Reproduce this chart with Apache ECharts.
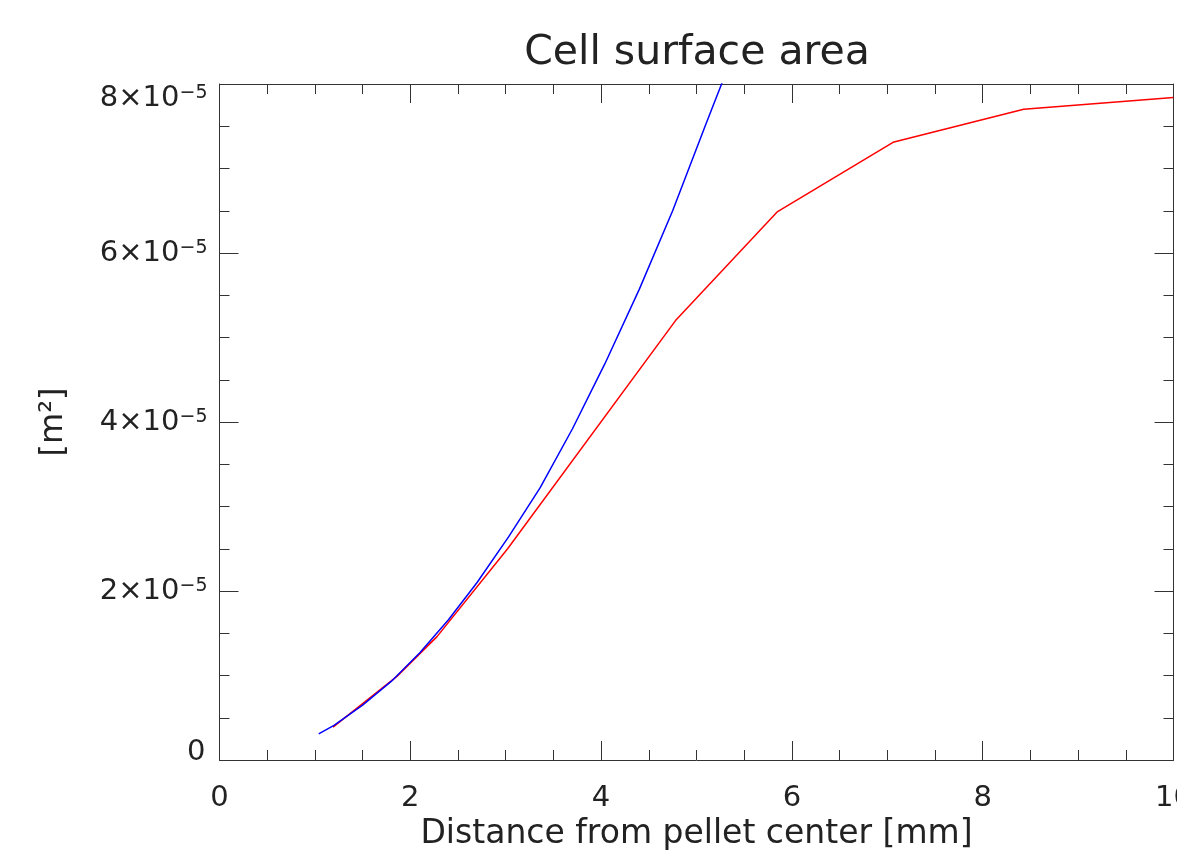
<!DOCTYPE html>
<html>
<head>
<meta charset="utf-8">
<script src="https://cdn.jsdelivr.net/npm/echarts@6/dist/echarts.min.js"></script>
<style>
html,body{margin:0;padding:0;background:#fff;overflow:hidden;}
#chart{position:absolute;left:0;top:0;width:1177px;height:854px;}
</style>
</head>
<body>
<div id="chart"></div>
<script>
// Data (distance in mm, area in m^2)
const blueX = [1.04, 1.2, 1.5, 1.8, 2.1, 2.4, 2.7, 3.03, 3.36, 3.7, 4.04, 4.4, 4.75, 5.1, 5.45];
const blueY = [3.1e-6, 4.1e-6, 6.5e-6, 9.3e-6, 1.27e-5, 1.66e-5, 2.10e-5, 2.64e-5, 3.22e-5, 3.92e-5, 4.69e-5, 5.57e-5, 6.50e-5, 7.53e-5, 8.54e-5];
const redX = [1.19, 1.86, 2.28, 3.02, 4.78, 5.85, 7.06, 8.43, 10.0];
const redY = [3.9e-6, 9.9e-6, 1.46e-5, 2.50e-5, 5.20e-5, 6.49e-5, 7.31e-5, 7.70e-5, 7.84e-5];
const xTicks = [0, 2, 4, 6, 8, 10];
const yTicks = [0, 2e-5, 4e-5, 6e-5, 8e-5];

const FONT = 'DejaVu Sans';
const TXT = '#222';
const chart = echarts.init(document.getElementById('chart'), null, {renderer: 'canvas', width: 1177, height: 854});
const zip = (xs, ys) => xs.map((x, i) => [x, ys[i]]);

const tickCommon = () => ({
  axisLine: {show: true, onZero: false, lineStyle: {color: '#333', width: 1}},
  axisTick: {show: true, inside: true, length: 19, lineStyle: {color: '#333', width: 1}},
  minorTick: {show: true, splitNumber: 4, length: 10, lineStyle: {color: '#333', width: 1}},
  splitLine: {show: false},
  minorSplitLine: {show: false}
});

chart.setOption({
  animation: false,
  backgroundColor: '#fff',
  title: {
    text: 'Cell surface area',
    left: 692, top: 28, textAlign: 'center',
    textStyle: {fontFamily: FONT, fontSize: 41, fontWeight: 'normal', color: TXT}
  },
  grid: {left: 219.5, right: 3.5, top: 84, bottom: 94, containLabel: false, outerBoundsMode: 'none'},
  xAxis: [
    Object.assign(tickCommon(), {
      type: 'value', min: xTicks[0], max: xTicks[xTicks.length - 1], interval: 2,
      position: 'bottom',
      name: 'Distance from pellet center [mm]', nameLocation: 'middle', nameGap: 56,
      nameTextStyle: {fontFamily: FONT, fontSize: 33, color: TXT},
      axisLabel: {margin: 24, fontFamily: FONT, fontSize: 29, color: TXT, hideOverlap: false,
        formatter: v => String(Math.round(v))}
    }),
    Object.assign(tickCommon(), {
      type: 'value', min: xTicks[0], max: xTicks[xTicks.length - 1], interval: 2,
      position: 'top', axisLabel: {show: false}
    })
  ],
  yAxis: [
    Object.assign(tickCommon(), {
      type: 'value', min: yTicks[0], max: yTicks[yTicks.length - 1], interval: 2e-5,
      position: 'left',
      name: '[m²]', nameLocation: 'middle', nameGap: 150, nameRotate: 90,
      nameTextStyle: {fontFamily: FONT, fontSize: 32, color: TXT},
      axisLabel: {
        margin: 12, fontFamily: FONT, fontSize: 29, color: TXT,
        verticalAlignMaxLabel: 'top', verticalAlignMinLabel: 'middle',
        formatter: v => {
          const n = Math.round(v * 1e5);
          if (n === 0) return '{z|0}';
          return '{b|' + n + '×10}{s|−5}';
        },
        rich: {
          z: {fontFamily: FONT, fontSize: 29, color: TXT, lineHeight: 29, padding: [0, 2, 16, 0]},
          b: {fontFamily: FONT, fontSize: 29, color: TXT, lineHeight: 29},
          s: {fontFamily: FONT, fontSize: 19, color: TXT, verticalAlign: 'top', lineHeight: 19}
        }
      }
    }),
    Object.assign(tickCommon(), {
      type: 'value', min: yTicks[0], max: yTicks[yTicks.length - 1], interval: 2e-5,
      position: 'right', axisLabel: {show: false}
    })
  ],
  series: [
    {type: 'line', data: zip(redX, redY), xAxisIndex: 0, yAxisIndex: 0, showSymbol: false, clip: true,
      lineStyle: {color: '#ff0000', width: 1.5}, z: 3},
    {type: 'line', data: zip(blueX, blueY), xAxisIndex: 0, yAxisIndex: 0, showSymbol: false, clip: true,
      lineStyle: {color: '#0000ff', width: 1.5}, z: 4}
  ]
});
</script>
</body>
</html>
